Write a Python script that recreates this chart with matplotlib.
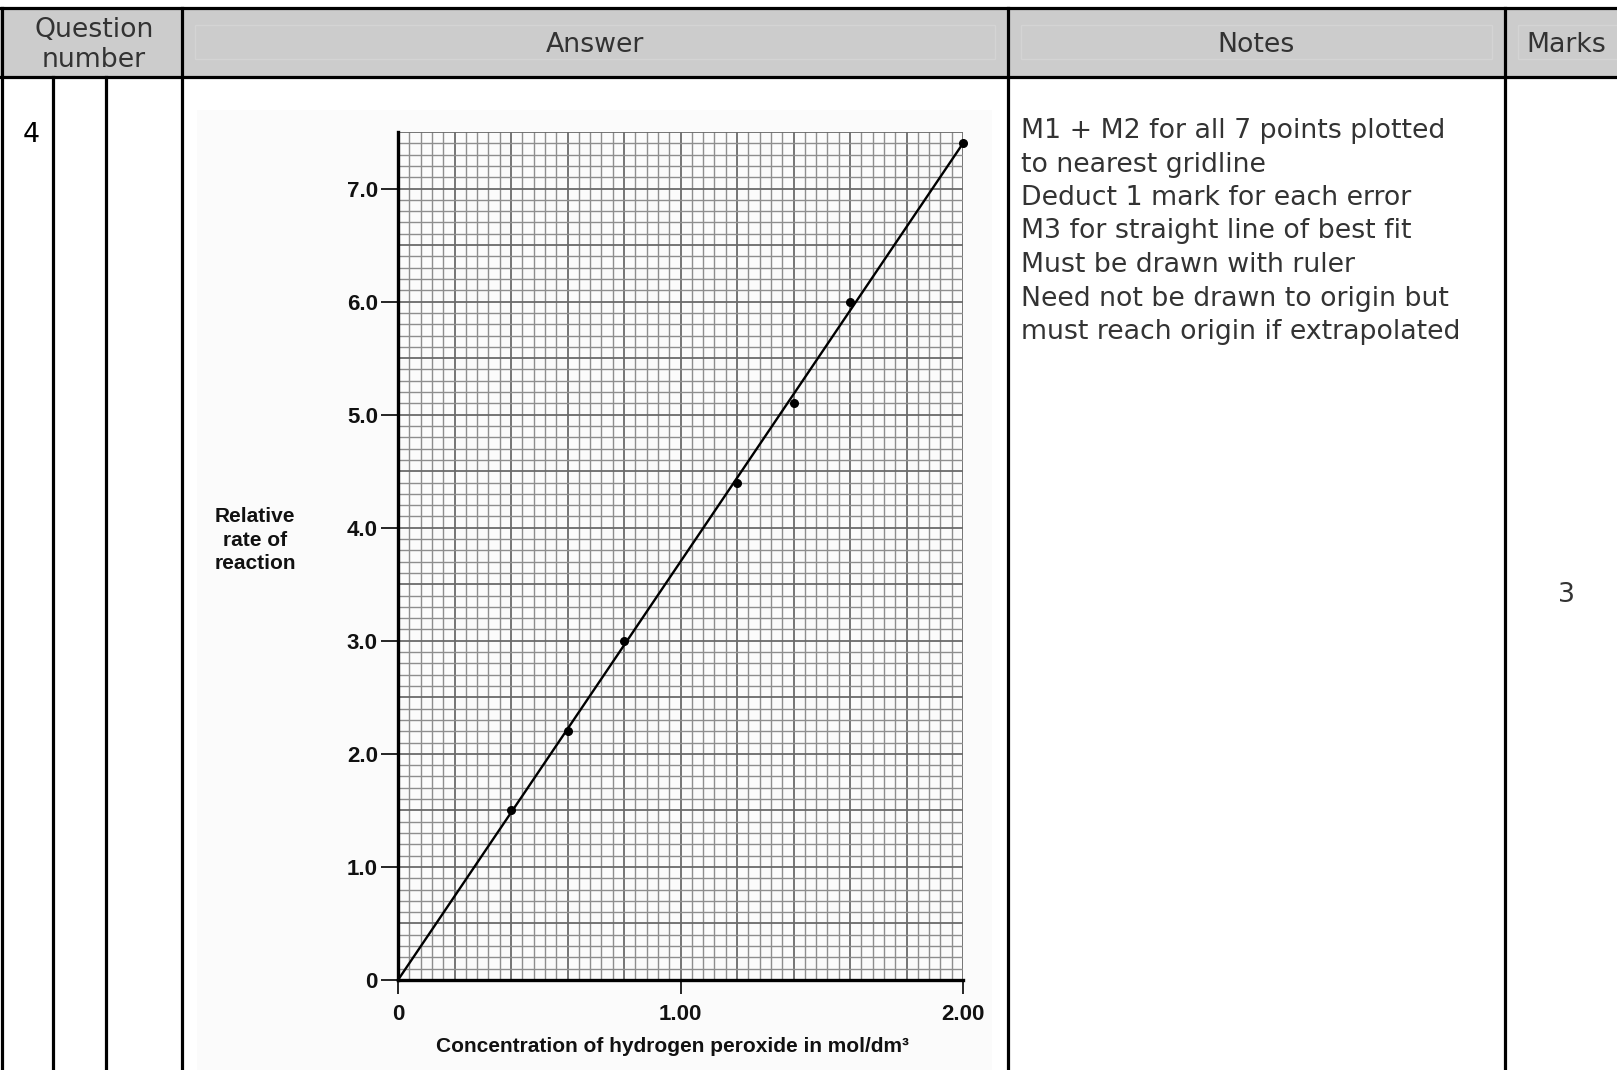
import numpy as np
import matplotlib
matplotlib.use("Agg")
import matplotlib.pyplot as plt
from matplotlib.patches import Rectangle

# ----------------------------------------------------------------------------
# Données
# ----------------------------------------------------------------------------
conc = [0.4, 0.6, 0.8, 1.2, 1.4, 1.6, 2.0]          # mol/dm3
rate = [1.5, 2.2, 3.0, 4.4, 5.1, 6.0, 7.4]          # relative rate
fit_conc = [0.0, 2.0]
fit_rate = [0.0, 7.4]

y_ticks = [0, 1, 2, 3, 4, 5, 6, 7]
y_tick_labels = ["0", "1.0", "2.0", "3.0", "4.0", "5.0", "6.0", "7.0"]
x_ticks = [0, 1, 2]
x_tick_labels = ["0", "1.00", "2.00"]

headers = ["Question\nnumber", "Answer", "Notes", "Marks"]
notes_lines = [
    "M1 + M2 for all 7 points plotted",
    "to nearest gridline",
    "Deduct 1 mark for each error",
    "M3 for straight line of best fit",
    "Must be drawn with ruler",
    "Need not be drawn to origin but",
    "must reach origin if extrapolated",
]
question = "4"
marks = "3"

W, H = 1617, 1070
TABLE_FONT = ["DejaVu Sans"]
GRAPH_FONT = ["Liberation Sans Narrow", "Liberation Sans", "DejaVu Sans"]
TXT_COLOR = "#333333"
TXT_SIZE = 19.3

fig = plt.figure(figsize=(W / 100, H / 100), dpi=100)

# ----------------------------------------------------------------------------
# Tableau (fond, en pixels)
# ----------------------------------------------------------------------------
bg = fig.add_axes([0, 0, 1, 1])
bg.set_xlim(0, W)
bg.set_ylim(H, 0)
bg.axis("off")

top, head_bot = 7.5, 77
col_x = [2, 182, 1007.5, 1505]
sub_x = [53, 106]

# en-tête gris + liseré intérieur plus clair
bg.add_patch(Rectangle((0, top), W, head_bot - top, facecolor="#cccccc",
                       edgecolor="none", zorder=0))
inner = [(195, 995), (1021, 1492), (1518, W + 20)]
for x0, x1 in inner:
    bg.add_patch(Rectangle((x0, 25), x1 - x0, 34, facecolor="none",
                           edgecolor="#d4d4d4", lw=1.0, zorder=1))

# image scannée : fond très légèrement gris
bg.add_patch(Rectangle((197, 110), 795, H - 110, facecolor="#fbfbfb",
                       edgecolor="none", zorder=0))

lw_table = 2.3
bg.plot([0, W], [top, top], color="black", lw=lw_table, zorder=3)
bg.plot([0, W], [head_bot, head_bot], color="black", lw=lw_table, zorder=3)
for x in col_x:
    bg.plot([x, x], [top, H], color="black", lw=lw_table, zorder=3)
for x in sub_x:
    bg.plot([x, x], [head_bot, H], color="black", lw=lw_table, zorder=3)

head_cx = [94, 595, 1256, 1566]
for label, cx in zip(headers, head_cx):
    bg.text(cx, 45, label, ha="center", va="center", fontsize=TXT_SIZE,
            family=TABLE_FONT, color=TXT_COLOR, linespacing=1.22)

bg.text(31, 135, question, ha="center", va="center", fontsize=TXT_SIZE,
        family=TABLE_FONT, color="black")
bg.text(1566, 595, marks, ha="center", va="center", fontsize=TXT_SIZE,
        family=TABLE_FONT, color=TXT_COLOR)

for i, line in enumerate(notes_lines):
    bg.text(1021, 131 + i * 33.5, line, ha="left", va="center",
            fontsize=TXT_SIZE, family=TABLE_FONT, color=TXT_COLOR)

# libellés du graphique
bg.text(255, 540, "Relative\nrate of\nreaction", ha="center", va="center",
        fontsize=15, family=GRAPH_FONT, fontweight="bold", linespacing=1.3,
        color="#111111")
bg.text(672, 1047, "Concentration of hydrogen peroxide in mol/dm³",
        ha="center", va="center", fontsize=15, family=GRAPH_FONT,
        fontweight="bold", color="#111111")

# ----------------------------------------------------------------------------
# Graphique (papier millimétré)
# ----------------------------------------------------------------------------
x0_px, x1_px, y0_px, y1_px = 398, 963, 980, 132
ax = fig.add_axes([x0_px / W, 1 - y0_px / H,
                   (x1_px - x0_px) / W, (y0_px - y1_px) / H])
ax.set_xlim(0, 2.0)
ax.set_ylim(0, 7.5)
ax.patch.set_alpha(0)

gx = np.round(np.arange(0, 2.0001, 0.04), 3)
gy = np.round(np.arange(0, 7.5001, 0.1), 3)
for i, x in enumerate(gx):
    strong = i % 5 == 0
    ax.axvline(x, color="#6a6a6a" if strong else "#8e8e8e",
               lw=1.3 if strong else 1.0, zorder=1)
for i, y in enumerate(gy):
    strong = i % 5 == 0
    ax.axhline(y, color="#6a6a6a" if strong else "#8e8e8e",
               lw=1.3 if strong else 1.0, zorder=1)

ax.plot(fit_conc, fit_rate, color="black", lw=1.7, zorder=3, clip_on=False)
ax.plot(conc, rate, "o", color="black", ms=5.5, zorder=4, clip_on=False)

for side in ["top", "right"]:
    ax.spines[side].set_visible(False)
for side in ["left", "bottom"]:
    ax.spines[side].set_linewidth(2.4)
    ax.spines[side].set_zorder(5)

ax.set_yticks(y_ticks)
ax.set_yticklabels(y_tick_labels)
ax.set_xticks(x_ticks)
ax.set_xticklabels(x_tick_labels)
ax.tick_params(axis="y", direction="out", length=12, width=1.2, pad=2.5)
ax.tick_params(axis="x", direction="out", length=10, width=1.2, pad=7)
for lab in ax.get_xticklabels() + ax.get_yticklabels():
    lab.set_family(GRAPH_FONT)
    lab.set_fontweight("bold")
    lab.set_fontsize(16)
    lab.set_color("#111111")

fig.savefig("out.png", dpi=100)
